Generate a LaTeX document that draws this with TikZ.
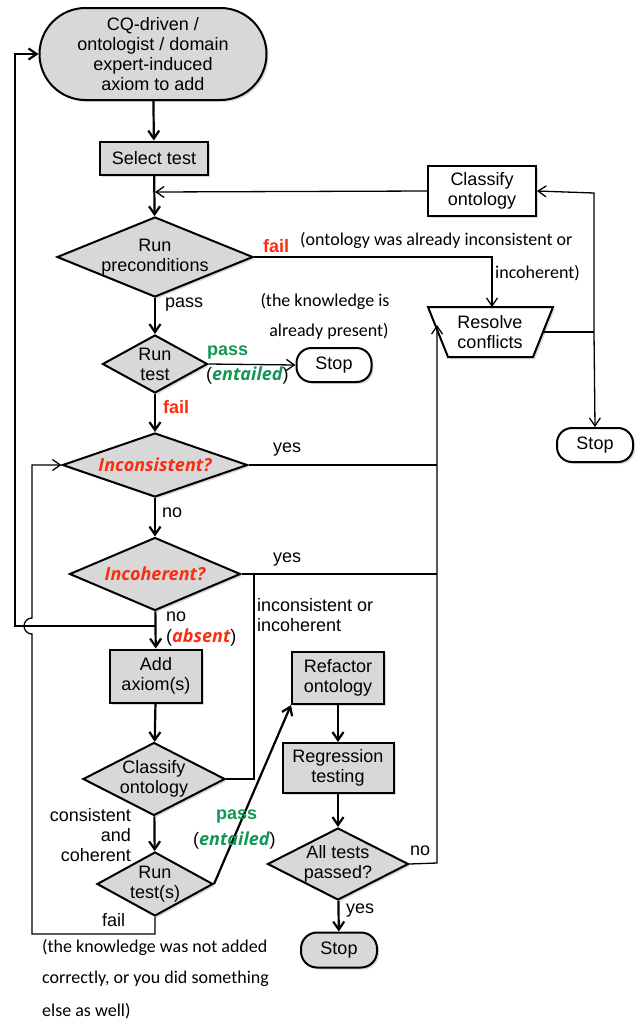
\documentclass[tikz,border=0pt]{standalone}
\usepackage{fontspec}
\setmainfont{Liberation Sans}
\newfontfamily\handfont{Carlito}
\newfontfamily\emfont{Open Sans}
\usetikzlibrary{arrows.meta,shapes.geometric,shadows,calc}
\definecolor{boxgray}{RGB}{216,216,216}
\definecolor{failred}{RGB}{250,45,15}
\definecolor{passgreen}{RGB}{20,150,85}
\newcommand{\redit}[1]{{\emfont\bfseries\itshape\color{failred}#1}}
\newcommand{\greenit}[1]{{\emfont\bfseries\itshape\color{passgreen}#1}}
\newcommand{\hand}[1]{{\handfont\fontsize{18}{20}\selectfont #1}}
\begin{document}
\begin{tikzpicture}[x=1pt,y=-1pt,
  font=\fontsize{18}{20}\selectfont,
  >={Straight Barb[length=8pt,width=11pt]},
  shp/.style={draw=black, line width=2pt, align=center, inner sep=0pt},
  grayfill/.style={fill=boxgray, drop shadow={opacity=0.3,shadow xshift=2pt,shadow yshift=-2pt}},
  whitefill/.style={fill=white, drop shadow={opacity=0.3,shadow xshift=2pt,shadow yshift=-2pt}},
  procbox/.style={shp, rectangle},
  termbox/.style={shp, rectangle, rounded corners=#1},
  decide/.style={shp, diamond},
  dlabel/.style={align=center, font=\fontsize{18}{20}\selectfont},
  mainline/.style={line width=2.2pt},
  thinline/.style={line width=1.3pt},
  lbl/.style={inner sep=0pt, align=left}
]
\useasboundingbox (0,0) rectangle (640,1023);

% ---------- nodes ----------
\node[termbox=46pt, grayfill, minimum width=227, minimum height=92] (start) at (153,54)
  {CQ-driven /\\ontologist / domain\\expert-induced\\axiom to add};
\node[procbox, grayfill, minimum width=108, minimum height=33] (sel) at (154,158) {Select test};
\node[decide, grayfill, minimum width=196, minimum height=80,
  label={[dlabel]center:Run\\preconditions}] (pre) at (155,257) {};
\node[decide, grayfill, minimum width=105, minimum height=58,
  label={[dlabel]center:Run\\test}] (rt) at (155,364) {};
\node[termbox=15pt, whitefill, minimum width=75, minimum height=34] (stopm) at (334,365) {Stop};
\node[procbox, whitefill, minimum width=108, minimum height=50] (clstop) at (482,191) {Classify\\ontology};

% Resolve conflicts trapezoid
\coordinate (rtl) at (428,307);
\coordinate (rtr) at (553,307);
\coordinate (rbr) at (533,357);
\coordinate (rbl) at (448,357);
\filldraw[line width=2pt, fill=white, drop shadow={opacity=0.3,shadow xshift=2pt,shadow yshift=-2pt}]
  (rtl) -- (rtr) -- (rbr) -- (rbl) -- cycle;
\node[align=center, inner sep=0pt] (res) at (490,332) {Resolve\\conflicts};
\coordinate (restop) at (492,307);
\coordinate (resright) at (543,332);
\coordinate (resleft) at (435,325);

\node[termbox=15pt, whitefill, minimum width=76, minimum height=34] (stopr) at (595,445) {Stop};

\node[decide, grayfill, minimum width=185, minimum height=64,
  label={[dlabel]center:\redit{Inconsistent?}}] (inc) at (155,465) {};
\node[decide, grayfill, minimum width=171, minimum height=73,
  label={[dlabel]center:\redit{Incoherent?}}] (incoh) at (155,574) {};
\node[procbox, grayfill, minimum width=92, minimum height=53] (add) at (156,676) {Add\\axiom(s)};
\node[decide, grayfill, minimum width=142, minimum height=73,
  label={[dlabel]center:Classify\\ontology}] (cls) at (154,779) {};
\node[decide, grayfill, minimum width=116, minimum height=64,
  label={[dlabel]center:Run\\test(s)}] (rts) at (155,884) {};

\node[procbox, grayfill, minimum width=92, minimum height=52] (ref) at (338,678) {Refactor\\ontology};
\node[procbox, grayfill, minimum width=111, minimum height=50] (reg) at (338,768) {Regression\\testing};
\node[decide, grayfill, minimum width=141, minimum height=72,
  label={[dlabel]center:All tests\\passed?}] (all) at (338,864) {};
\node[termbox=16pt, grayfill, minimum width=76, minimum height=35] (stopb) at (339,950) {Stop};

% ---------- junction coordinates ----------
\coordinate (jsel) at (155,192);
\coordinate (jv) at (437,465);
\coordinate (jv2) at (437,574);
\coordinate (jno) at (437,863);
\coordinate (jcl) at (254,779);
\coordinate (jcl2) at (254,574);
\coordinate (jloop) at (155,626);
\coordinate (lA) at (15,626);
\coordinate (lB) at (15,54);
\coordinate (jr) at (594,332);
\coordinate (jrtop) at (594,193);
\coordinate (jf1) at (155,934);
\coordinate (jf2) at (32,934);
\coordinate (jf3) at (32,634);
\coordinate (jf4) at (32,465);

% ---------- connectors ----------
\draw[mainline,->] (start) -- (sel);
\draw[mainline,->] (sel) -- (pre);
\draw[thinline,->] (clstop.west) -- (jsel);
\draw[mainline,->] (pre) -- (rt);
\draw[thinline,->] (pre.east) -| (restop);
\draw[thinline,->] (rt.east) -- (stopm.west);
\draw[mainline,->] (rt) -- (inc);
\draw[thinline] (inc.east) -- (jv);
\draw[thinline] (incoh.east) -- (jv2);
\draw[thinline,->] (all.east) -- (jno) -- (resleft -| jno);
\draw[thinline] (cls.east) -- (jcl) -- (jcl2);
\draw[mainline,->] (inc) -- (incoh);
\draw[mainline,->] (incoh) -- (add);
\draw[mainline,->] (jloop) -- (lA) -- (lB) -- (start.west);
\draw[thinline,->] (rts.south) -- (jf1) -- (jf2) -- (jf3)
  arc[start angle=270, end angle=90, radius=8pt] -- (jf4) -- (inc.west);
\draw[mainline,->] (add) -- (cls);
\draw[mainline,->] (cls) -- (rts);
\draw[mainline,->] (rts.east) -- (ref.south west);
\draw[mainline,->] (ref) -- (reg);
\draw[mainline,->] (reg) -- (all);
\draw[mainline,->] (all) -- (stopb);
\draw[thinline] (resright) -- (jr);
\draw[thinline,->] (jr) -- (jrtop) -- (clstop.east);
\draw[thinline,->] (jr) -- (stopr.north);

% ---------- labels ----------
\node[lbl, anchor=west] (l1) at (165,305) {pass};
\node[lbl, anchor=west, text=failred, font=\fontsize{18}{20}\selectfont\bfseries] (l2) at (263,246) {fail};
\node[lbl, anchor=west] (l3) at (300,240) {\hand{(ontology was already inconsistent or}};
\node[lbl, anchor=west] (l4) at (495,273) {\hand{incoherent)}};
\node[lbl, anchor=center] (l5) at (325,301) {\hand{(the knowledge is}};
\node[lbl, anchor=center] (l6) at (329,331) {\hand{already present)}};
\node[lbl, anchor=west, text=passgreen, font=\fontsize{18}{20}\selectfont\bfseries] (l7) at (207,353) {pass};
\node[lbl, anchor=west] (l8) at (206,376) {(\greenit{entailed})};
\node[lbl, anchor=west, text=failred, font=\fontsize{18}{20}\selectfont\bfseries] (l9) at (163,407) {fail};
\node[lbl, anchor=west] (l10) at (273,450) {yes};
\node[lbl, anchor=west] (l11) at (162,513) {no};
\node[lbl, anchor=west] (l12) at (273,560) {yes};
\node[lbl, anchor=west] (l13) at (166,617) {no};
\node[lbl, anchor=west] (l14) at (166,638) {(\redit{absent})};
\node[lbl, anchor=north west] (l15) at (257,598) {inconsistent or\\incoherent};
\node[lbl, anchor=east, align=right] (l16) at (131,835) {consistent\\and\\coherent};
\node[lbl, anchor=west] (l17) at (102,920) {fail};
\node[lbl, anchor=west, text=passgreen, font=\fontsize{18}{20}\selectfont\bfseries] (l18) at (216,817) {pass};
\node[lbl, anchor=west] (l19) at (193,841) {(\greenit{entailed})};
\node[lbl, anchor=west] (l20) at (410,851) {no};
\node[lbl, anchor=west] (l21) at (346,911) {yes};
\node[lbl, anchor=west] (l22) at (42,947) {\hand{(the knowledge was not added}};
\node[lbl, anchor=west] (l23) at (42,979) {\hand{correctly, or you did something}};
\node[lbl, anchor=west] (l24) at (42,1011) {\hand{else as well)}};
\end{tikzpicture}
\end{document}
